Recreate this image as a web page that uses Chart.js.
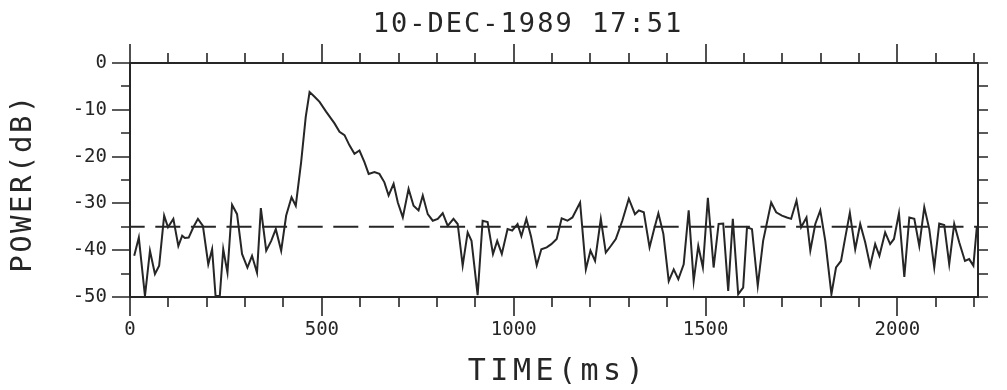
<!DOCTYPE html>
<html>
<head>
<meta charset="utf-8">
<script src="https://cdn.jsdelivr.net/npm/chart.js@4.4.0/dist/chart.umd.min.js"></script>
<style>
  html, body { margin: 0; padding: 0; background: #fff; }
  #wrap { width: 1007px; height: 390px; }
</style>
</head>
<body>
<div id="wrap"><canvas id="chart-power"></canvas></div>
<script>
// Echo power trace, 10-DEC-1989 17:51
const timeMs = [
  11, 23, 39, 52, 65, 76, 89, 99, 113, 126, 136, 143, 153, 165, 177, 190,
  204, 214, 223, 234, 243, 254, 266, 279, 292, 306, 318, 331, 341, 355, 368,
  380, 394, 407, 421, 432, 446, 458, 468, 481, 494, 511, 533, 546, 559, 572,
  585, 598, 611, 622, 637, 650, 663, 674, 687, 698, 711, 726, 739, 752, 763,
  776, 789, 802, 815, 828, 843, 854, 867, 880, 890, 906, 919, 932, 946, 957,
  969, 984, 996, 1010, 1020, 1033, 1045, 1060, 1072, 1086, 1098, 1112, 1125,
  1140, 1153, 1173, 1188, 1200, 1212, 1227, 1240, 1253, 1266, 1283, 1300,
  1316, 1326, 1339, 1354, 1365, 1377, 1390, 1404, 1417, 1429, 1443, 1456,
  1469, 1481, 1493, 1506, 1521, 1534, 1546, 1559, 1571, 1585, 1598, 1608,
  1621, 1636, 1650, 1671, 1684, 1699, 1712, 1723, 1737, 1749, 1763, 1773,
  1786, 1799, 1812, 1828, 1840, 1853, 1864, 1876, 1890, 1903, 1916, 1929,
  1942, 1953, 1968, 1981, 1991, 2004, 2018, 2031, 2044, 2057, 2070, 2083,
  2096, 2109, 2122, 2135, 2148, 2161, 2176, 2187, 2198, 2207
];
const powerDb = [
  -41.2, -37.3, -49.8, -40.1, -45.1, -43.3, -32.6, -35.1, -33.3, -39.1, -36.9, -37.4, -37.3, -35.1, -33.3, -34.8,
  -43.0, -39.8, -49.8, -49.8, -39.8, -44.8, -30.3, -32.3, -40.8, -43.7, -41.2, -44.8, -31.0, -40.1, -38.0,
  -35.5, -40.1, -32.6, -28.7, -30.5, -21.2, -11.5, -6.2, -7.2, -8.3, -10.4, -12.9, -14.7, -15.4, -17.6,
  -19.4, -18.7, -21.2, -23.7, -23.3, -23.7, -25.5, -28.3, -25.8, -29.8, -33.0, -26.9, -30.5, -31.5, -28.3,
  -32.3, -33.7, -33.3, -32.1, -34.8, -33.3, -34.4, -43.3, -36.2, -38.0, -49.6, -33.7, -34.0, -40.8, -38.0,
  -40.8, -35.5, -35.8, -34.4, -37.0, -33.3, -37.0, -43.2, -39.8, -39.4, -38.7, -37.6, -33.2,
  -33.7, -33.0, -29.8, -44.1, -40.1, -42.3, -33.3, -40.5, -39.1, -37.6, -33.7, -29.0,
  -32.3, -31.5, -31.9, -39.4, -35.8, -32.1, -36.5, -46.6, -44.1, -46.2, -43.0, -31.5,
  -46.6, -39.1, -43.7, -28.8, -43.7, -34.4, -34.3, -48.7, -33.3, -49.4, -48.0, -35.1,
  -35.5, -47.6, -38.0, -29.8, -31.9, -32.6, -33.0, -33.3, -29.4, -35.1, -33.0, -40.1,
  -34.4, -31.5, -38.0, -49.4, -43.7, -42.3, -37.3, -32.0, -39.8, -34.4, -38.3, -43.3,
  -38.7, -41.2, -36.2, -38.7, -37.6, -32.1, -45.7, -33.0, -33.3, -39.1, -30.8, -35.5,
  -43.7, -34.3, -34.6, -43.0, -34.4, -38.3, -42.3, -41.9, -43.3, -35.0
];
const noiseLevelDb = -35;

const xTickValues = [0, 500, 1000, 1500, 2000];
const yTickValues = [0, -10, -20, -30, -40, -50];

const ink = '#262626';
const plotFont = '"DejaVu Sans Mono", monospace';

// frame, minor tick marks and the big plotter-style captions
const plotterFrame = {
  id: 'plotterFrame',
  afterDraw(chart) {
    const { ctx, chartArea: a, scales: { x, y } } = chart;
    ctx.save();
    ctx.strokeStyle = ink;
    ctx.lineWidth = 2;
    ctx.strokeRect(a.left, a.top, a.right - a.left, a.bottom - a.top);

    ctx.lineWidth = 1.6;
    ctx.beginPath();
    for (let t = 0; t <= x.max; t += 100) {
      const px = Math.round(x.getPixelForValue(t));
      const len = t % 500 === 0 ? 19 : 10;
      ctx.moveTo(px, a.top);
      ctx.lineTo(px, a.top - len);
      ctx.moveTo(px, a.bottom);
      ctx.lineTo(px, a.bottom + len);
    }
    for (let v = 0; v >= y.min; v -= 5) {
      const py = Math.round(y.getPixelForValue(v));
      ctx.moveTo(a.left, py);
      ctx.lineTo(a.left - (v % 10 === 0 ? 18 : 9), py);
      ctx.moveTo(a.right, py);
      ctx.lineTo(a.right + 10, py);
    }
    ctx.stroke();

    ctx.fillStyle = ink;
    ctx.textAlign = 'center';
    ctx.textBaseline = 'alphabetic';

    ctx.font = '27px ' + plotFont;
    ctx.letterSpacing = '2px';
    ctx.fillText('10-DEC-1989 17:51', 528, 32);

    ctx.font = '30px ' + plotFont;
    ctx.letterSpacing = '4.5px';
    ctx.fillText('TIME(ms)', 558, 380);

    ctx.font = '29px ' + plotFont;
    ctx.letterSpacing = '2.5px';
    ctx.translate(31, 183);
    ctx.rotate(-Math.PI / 2);
    ctx.fillText('POWER(dB)', 0, 0);
    ctx.restore();
  }
};

const tickFont = { family: plotFont, size: 19 };

new Chart(document.getElementById('chart-power'), {
  type: 'line',
  data: {
    datasets: [
      {
        label: 'Power',
        data: timeMs.map((t, i) => ({ x: t, y: powerDb[i] })),
        borderColor: ink,
        borderWidth: 2,
        pointRadius: 0,
        tension: 0,
        fill: false,
      },
      {
        label: 'Noise level',
        data: [{ x: 0, y: noiseLevelDb }, { x: 2210, y: noiseLevelDb }],
        borderColor: ink,
        borderWidth: 2,
        borderDash: [25, 10.6],
        borderDashOffset: 10.3,
        pointRadius: 0,
        fill: false,
      },
    ],
  },
  options: {
    responsive: true,
    maintainAspectRatio: false,
    animation: false,
    layout: { padding: { top: 63, right: 29, bottom: 0, left: 0 } },
    plugins: {
      legend: { display: false },
      tooltip: { enabled: false },
    },
    scales: {
      x: {
        type: 'linear',
        min: 0,
        max: 2210,
        afterBuildTicks: (scale) => {
          scale.ticks = xTickValues.map((v) => ({ value: v }));
        },
        afterFit: (scale) => { scale.height = 93; },
        grid: { display: false, drawTicks: false },
        border: { display: false },
        ticks: {
          color: ink,
          font: tickFont,
          padding: 22,
          maxRotation: 0,
          callback: (v) => String(v),
        },
      },
      y: {
        min: -50,
        max: 0,
        afterBuildTicks: (scale) => {
          scale.ticks = yTickValues.map((v) => ({ value: v }));
        },
        afterFit: (scale) => { scale.width = 130; },
        grid: { display: false, drawTicks: false },
        border: { display: false },
        ticks: {
          color: ink,
          font: tickFont,
          padding: 23,
          callback: (v) => String(v),
        },
      },
    },
  },
  plugins: [plotterFrame],
});
</script>
</body>
</html>
